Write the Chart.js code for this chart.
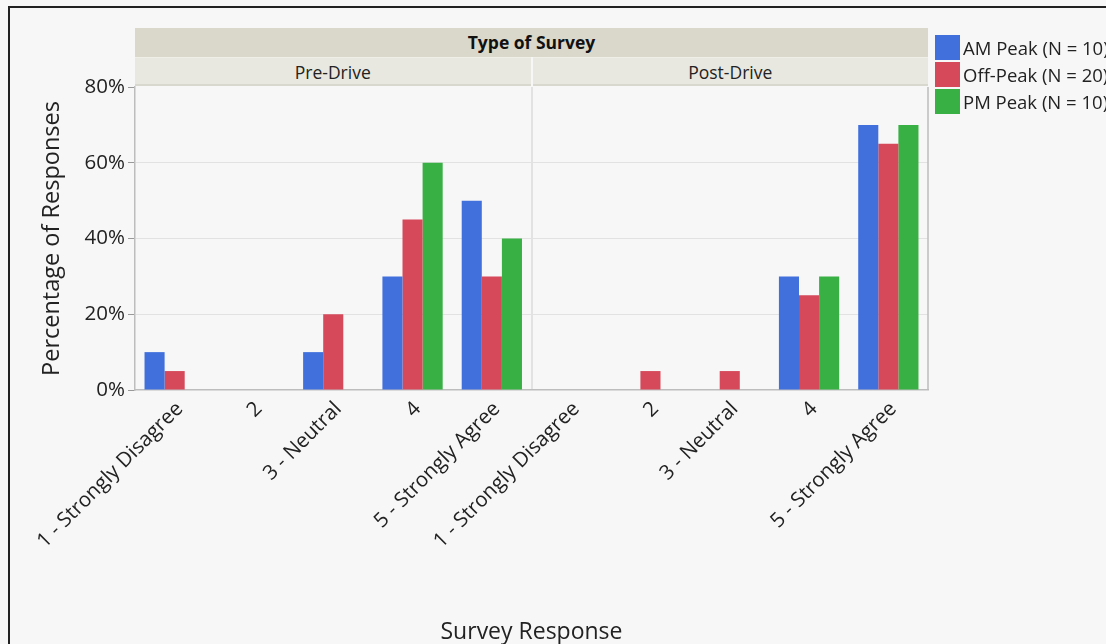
<!DOCTYPE html>
<html>
<head>
<meta charset="utf-8">
<script src="https://cdn.jsdelivr.net/npm/chart.js@4"></script>
<style>
  html, body { margin: 0; padding: 0; background: #f7f7f7; font-family: "Open Sans", "Noto Sans", sans-serif; }
  #wrap { position: relative; width: 1106px; height: 644px; overflow: hidden; }
  #frame { position: absolute; left: 8px; top: 6px; width: 1200px; height: 700px; border-left: 2px solid #222; border-top: 2px solid #222; }
  #chart-box { position: absolute; left: 0; top: 0; width: 1106px; height: 644px; }
  .band { position: absolute; box-sizing: border-box; text-align: center; color: #222; }
  .legend-item { position: absolute; left: 935px; height: 26px; display: flex; align-items: center; font-size: 18.5px; color: #222; white-space: nowrap; }
  .legend-item span.sw { display: inline-block; width: 25px; height: 25px; margin-right: 3px; }
</style>
</head>
<body>
<div id="wrap">
  <div id="frame"></div>
  <div id="chart-box"><canvas id="c"></canvas></div>
  <div id="overlay"></div>
</div>
<script>
// Survey data, percentages
const surveyTypes = ['Pre-Drive', 'Post-Drive'];
const responses = ['1 - Strongly Disagree', '2', '3 - Neutral', '4', '5 - Strongly Agree'];
const seriesNames = ['AM Peak (N = 10)', 'Off-Peak (N = 20)', 'PM Peak (N = 10)'];
const seriesColors = ['#4170DD', '#D5495A', '#39B044'];

// pre-drive then post-drive, one per response
const amPeak  = [10, 0, 10, 30, 50,   0, 0, 0, 30, 70];
const offPeak = [5, 0, 20, 45, 30,    0, 5, 5, 25, 65];
const pmPeak  = [0, 0, 0, 60, 40,     0, 0, 0, 30, 70];

const yTicks = [0, 20, 40, 60, 80];

const labels = surveyTypes.flatMap(() => responses);

// plot area placement (pixels)
const area = { left: 135, top: 87, right: 928, bottom: 390 };
const W = 1106, H = 644;
const FONT = '"Open Sans", sans-serif';

// outline of the plot area on the right
const framePlugin = {
  id: 'plotFrame',
  afterDraw(chart) {
    const { ctx, chartArea: a } = chart;
    ctx.save();
    ctx.strokeStyle = '#bdbdbd';
    ctx.lineWidth = 1.5;
    ctx.beginPath();
    ctx.moveTo(a.right, a.top);
    ctx.lineTo(a.right, a.bottom);
    ctx.stroke();
    ctx.restore();
  }
};

const toNull = arr => arr.map(v => v === 0 ? null : v);

const chart = new Chart(document.getElementById('c'), {
  type: 'bar',
  data: {
    labels: labels,
    datasets: [amPeak, offPeak, pmPeak].map((d, i) => ({
      label: seriesNames[i],
      data: toNull(d),
      backgroundColor: seriesColors[i],
      borderWidth: 0,
      categoryPercentage: 0.76,
      barPercentage: 1
    }))
  },
  plugins: [framePlugin],
  options: {
    responsive: true,
    maintainAspectRatio: false,
    animation: false,
    layout: { padding: { top: area.top, right: W - area.right, left: 0, bottom: 0 } },
    plugins: { legend: { display: false }, tooltip: { enabled: false } },
    scales: {
      x: {
        afterFit(scale) { scale.height = H - area.bottom; },
        grid: {
          drawTicks: false,
          lineWidth: 2,
          color: ctx => ctx.index === 5 ? '#e2e2e2' : 'rgba(0,0,0,0)'
        },
        border: { color: '#bdbdbd', width: 1.5 },
        ticks: {
          autoSkip: false,
          minRotation: 45,
          maxRotation: 45,
          padding: 7,
          labelOffset: 5,
          color: '#222',
          font: { family: FONT, size: 20.5 }
        },
        title: {
          display: true,
          text: 'Survey Response',
          color: '#222',
          padding: { top: 0, bottom: -2 },
          font: { family: FONT, size: 23 }
        }
      },
      y: {
        min: 0,
        max: 80,
        afterFit(scale) { scale.width = area.left; },
        afterBuildTicks(scale) { scale.ticks = yTicks.map(v => ({ value: v })); },
        grid: {
          color: ctx => (ctx.tick && ctx.tick.value > 0 && ctx.tick.value < 80) ? '#e2e2e2' : 'rgba(0,0,0,0)',
          tickColor: '#999',
          tickLength: 7,
          lineWidth: 1
        },
        border: { color: '#bdbdbd', width: 1.5 },
        ticks: {
          padding: 3,
          color: '#222',
          font: { family: FONT, size: 20.5 },
          callback: v => v + '%'
        },
        title: {
          display: true,
          text: 'Percentage of Responses',
          color: '#222',
          padding: { top: 38, bottom: 0 },
          font: { family: FONT, size: 23.5 }
        }
      }
    }
  }
});

// header bands and legend
const overlay = document.getElementById('overlay');
const mid = (area.left + area.right) / 2;
function band(x, y, w, h, bg, text, style) {
  const d = document.createElement('div');
  d.className = 'band';
  d.style.cssText = `left:${x}px;top:${y}px;width:${w}px;height:${h}px;line-height:${h}px;background:${bg};${style || ''}`;
  d.textContent = text;
  overlay.appendChild(d);
}
band(area.left, 28, area.right - area.left, 29, '#dad8ca', 'Type of Survey', 'font-weight:700;font-size:17.5px;color:#111;');
band(area.left, 57, mid - area.left - 1, 29, '#e8e8e0', surveyTypes[0], 'font-size:17.5px;border-bottom:2px solid #d8d8cf;border-top:1px solid #efefe8;');
band(mid + 1, 57, area.right - mid - 1, 29, '#e8e8e0', surveyTypes[1], 'font-size:17.5px;border-bottom:2px solid #d8d8cf;border-top:1px solid #efefe8;');

seriesNames.forEach((name, i) => {
  const d = document.createElement('div');
  d.className = 'legend-item';
  d.style.top = (34 + i * 27) + 'px';
  d.innerHTML = `<span class="sw" style="background:${seriesColors[i]}"></span>${name}`;
  overlay.appendChild(d);
});
</script>
</body>
</html>
